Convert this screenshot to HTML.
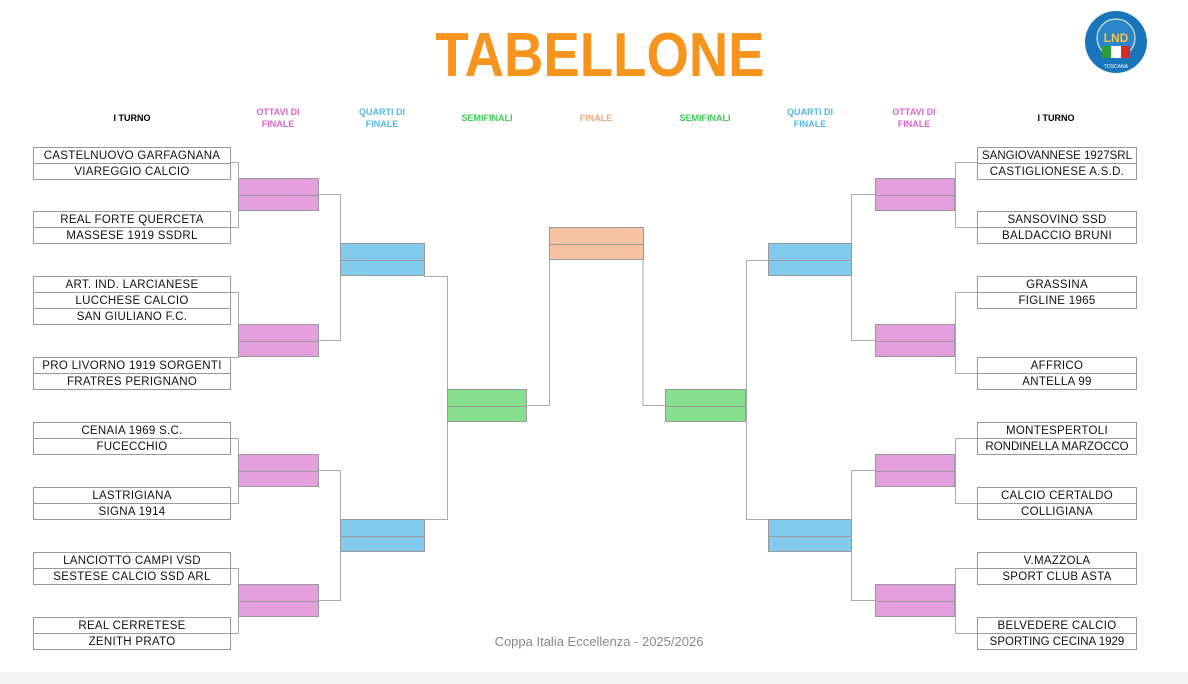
<!DOCTYPE html>
<html><head><meta charset="utf-8"><style>
body{margin:0;width:1188px;height:684px;background:#fff;position:relative;overflow:hidden;font-family:"Liberation Sans",sans-serif}
.t{position:absolute;height:15px;border:1px solid #999;box-sizing:content-box;font-size:11.5px;letter-spacing:0.3px;line-height:16px;text-align:center;color:#111;background:#fff}
.L{left:33px;width:196px}.R{left:977px;width:158px}
.b{position:absolute;box-sizing:border-box;border:1px solid #999}
.b:after{content:"";position:absolute;left:0;right:0;top:50%;border-top:1px solid #999}
.o{background:#e39fde}.q{background:#82cbec}.s{background:#87e08e}.f{background:#f6c2a4}
.h{position:absolute;font-size:9px;font-weight:bold;text-align:center;line-height:12px;width:100px}
</style></head><body>
<div style="position:absolute;left:380px;width:440px;top:25px;text-align:center;font-size:62px;font-weight:900;color:#f7941d;transform:scaleX(0.88);line-height:62px">TABELLONE</div>
<svg style="position:absolute;left:1084px;top:10px" width="66" height="66"><circle cx="32" cy="32" r="31" fill="#1a75bb"/><circle cx="32" cy="28" r="19" fill="#2a86c9" stroke="#fff" stroke-width="1"/><rect x="18" y="36" width="9" height="12" fill="#2e9b3e"/><rect x="27" y="36" width="10" height="12" fill="#fff"/><rect x="37" y="36" width="9" height="12" fill="#d52b2b"/><text x="32" y="32" font-size="12" font-weight="bold" fill="#f5c542" text-anchor="middle" font-family="Liberation Sans">LND</text><text x="32" y="58" font-size="5" fill="#fff" text-anchor="middle" font-family="Liberation Sans">TOSCANA</text></svg>

<div class="h" style="left:82px;top:112px;color:#000">I TURNO</div>
<div class="h" style="left:228px;top:106px;color:#d765d0">OTTAVI DI<br>FINALE</div>
<div class="h" style="left:332px;top:106px;color:#52b8e6">QUARTI DI<br>FINALE</div>
<div class="h" style="left:437px;top:112px;color:#3fcc55">SEMIFINALI</div>
<div class="h" style="left:546px;top:112px;color:#f0a57c">FINALE</div>
<div class="h" style="left:655px;top:112px;color:#3fcc55">SEMIFINALI</div>
<div class="h" style="left:760px;top:106px;color:#52b8e6">QUARTI DI<br>FINALE</div>
<div class="h" style="left:864px;top:106px;color:#d765d0">OTTAVI DI<br>FINALE</div>
<div class="h" style="left:1006px;top:112px;color:#000">I TURNO</div>

<svg style="position:absolute;left:0;top:0" width="1188" height="684"><g stroke="#aaa" fill="none" stroke-width="1">
<path d="M230 162.5H238.5V227.5H230M230 292.5H238.5V357.5H230M230 438.5H238.5V503.5H230M230 568.5H238.5V633.5H230"/>
<path d="M318 194.5H340.5V340.5H318M318 470.5H340.5V600.5H318"/>
<path d="M424 276.5H447.5V519.5H424"/>
<path d="M526 405.5H549.5V260"/>
<path d="M643 260V405.5H665"/>
<path d="M768 260.5H746.5V519.5H768"/>
<path d="M875 194.5H851.5V340.5H875M875 470.5H851.5V600.5H875"/>
<path d="M977 162.5H955.5V227.5H977M977 292.5H955.5V373.5H977M977 438.5H955.5V503.5H977M977 568.5H955.5V633.5H977"/>
</g></svg>

<div class="t L" style="top:147px">CASTELNUOVO GARFAGNANA</div>
<div class="t L" style="top:163px">VIAREGGIO CALCIO</div>
<div class="t L" style="top:211px">REAL FORTE QUERCETA</div>
<div class="t L" style="top:227px">MASSESE 1919 SSDRL</div>
<div class="t L" style="top:276px">ART. IND. LARCIANESE</div>
<div class="t L" style="top:292px">LUCCHESE CALCIO</div>
<div class="t L" style="top:308px">SAN GIULIANO F.C.</div>
<div class="t L" style="top:357px">PRO LIVORNO 1919 SORGENTI</div>
<div class="t L" style="top:373px">FRATRES PERIGNANO</div>
<div class="t L" style="top:422px">CENAIA 1969 S.C.</div>
<div class="t L" style="top:438px">FUCECCHIO</div>
<div class="t L" style="top:487px">LASTRIGIANA</div>
<div class="t L" style="top:503px">SIGNA 1914</div>
<div class="t L" style="top:552px">LANCIOTTO CAMPI  VSD</div>
<div class="t L" style="top:568px">SESTESE CALCIO SSD ARL</div>
<div class="t L" style="top:617px">REAL CERRETESE</div>
<div class="t L" style="top:633px">ZENITH PRATO</div>

<div class="t R" style="top:147px;letter-spacing:0">SANGIOVANNESE 1927SRL</div>
<div class="t R" style="top:163px">CASTIGLIONESE A.S.D.</div>
<div class="t R" style="top:211px">SANSOVINO SSD</div>
<div class="t R" style="top:227px">BALDACCIO BRUNI</div>
<div class="t R" style="top:276px">GRASSINA</div>
<div class="t R" style="top:292px">FIGLINE 1965</div>
<div class="t R" style="top:357px">AFFRICO</div>
<div class="t R" style="top:373px">ANTELLA 99</div>
<div class="t R" style="top:422px">MONTESPERTOLI</div>
<div class="t R" style="top:438px;letter-spacing:0">RONDINELLA MARZOCCO</div>
<div class="t R" style="top:487px">CALCIO CERTALDO</div>
<div class="t R" style="top:503px">COLLIGIANA</div>
<div class="t R" style="top:552px">V.MAZZOLA</div>
<div class="t R" style="top:568px">SPORT CLUB ASTA</div>
<div class="t R" style="top:617px">BELVEDERE CALCIO</div>
<div class="t R" style="top:633px;letter-spacing:0">SPORTING CECINA 1929</div>

<div class="b o" style="left:238px;top:178px;width:81px;height:33px"></div>
<div class="b o" style="left:238px;top:324px;width:81px;height:33px"></div>
<div class="b o" style="left:238px;top:454px;width:81px;height:33px"></div>
<div class="b o" style="left:238px;top:584px;width:81px;height:33px"></div>
<div class="b q" style="left:340px;top:243px;width:85px;height:33px"></div>
<div class="b q" style="left:340px;top:519px;width:85px;height:33px"></div>
<div class="b s" style="left:447px;top:389px;width:80px;height:33px"></div>
<div class="b f" style="left:549px;top:227px;width:95px;height:33px"></div>
<div class="b s" style="left:665px;top:389px;width:81px;height:33px"></div>
<div class="b q" style="left:768px;top:243px;width:84px;height:33px"></div>
<div class="b q" style="left:768px;top:519px;width:84px;height:33px"></div>
<div class="b o" style="left:875px;top:178px;width:80px;height:33px"></div>
<div class="b o" style="left:875px;top:324px;width:80px;height:33px"></div>
<div class="b o" style="left:875px;top:454px;width:80px;height:33px"></div>
<div class="b o" style="left:875px;top:584px;width:80px;height:33px"></div>

<div style="position:absolute;left:400px;width:398px;top:634px;text-align:center;font-size:13px;color:#888">Coppa Italia Eccellenza - 2025/2026</div>
<div style="position:absolute;left:0;top:672px;width:1188px;height:12px;background:#f3f3f3"></div>
</body></html>
